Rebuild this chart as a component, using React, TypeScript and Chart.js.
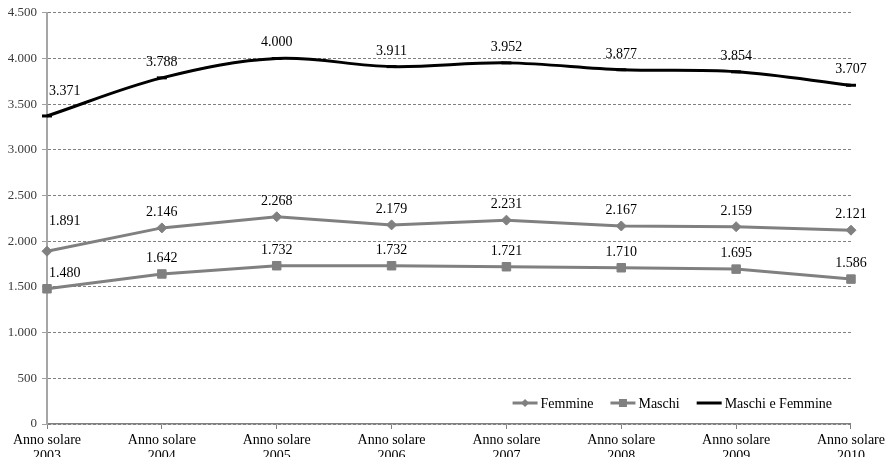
import React, { useEffect, useRef } from 'react';
import { Chart, registerables } from 'chart.js';

Chart.register(...registerables);

// Anni solari rappresentati sull'asse orizzontale
const years = ['2003', '2004', '2005', '2006', '2007', '2008', '2009', '2010'];
const categories = years.map((y) => ['Anno solare', y]);

// Valori per serie
const femmine = [1891, 2146, 2268, 2179, 2231, 2167, 2159, 2121];
const maschi = [1480, 1642, 1732, 1732, 1721, 1710, 1695, 1586];
const totale = [3371, 3788, 4000, 3911, 3952, 3877, 3854, 3707];

// Asse verticale
const yMin = 0;
const yMax = 4500;
const yStep = 500;

const FONT = '"Liberation Serif", "Times New Roman", serif';
const GRAY = '#808080';
const VIEW_W = 887;
const VIEW_H = 457;
const CANVAS_W = 889;
const CANVAS_H = 475;

// Separatore delle migliaia all'italiana
const fmt = (n: number) => String(n).replace(/\B(?=(\d{3})+(?!\d))/g, '.');

// Etichette con il valore sopra ogni punto
const valueLabels = {
  id: 'valueLabels',
  afterDatasetsDraw(chart: any) {
    const { ctx, chartArea } = chart;
    ctx.save();
    ctx.font = `14px ${FONT}`;
    ctx.fillStyle = '#000';
    ctx.textAlign = 'center';
    ctx.textBaseline = 'alphabetic';
    chart.data.datasets.forEach((ds: any, i: number) => {
      const meta = chart.getDatasetMeta(i);
      meta.data.forEach((pt: any, j: number) => {
        const text = fmt(ds.data[j]);
        const w = ctx.measureText(text).width;
        const x = Math.max(pt.x, chartArea.left + 2 + w / 2);
        const lift = j === 0 ? ds.firstLabelLift : 12;
        ctx.fillText(text, x, pt.y - lift);
      });
    });
    ctx.restore();
  },
};

// Legenda disegnata dentro l'area del grafico, in basso a destra
const innerLegend = {
  id: 'innerLegend',
  afterDraw(chart: any) {
    const { ctx, chartArea } = chart;
    const sample = 25;
    const gapText = 3;
    const gapItem = 17;
    ctx.save();
    ctx.font = `14px ${FONT}`;
    const items = chart.data.datasets.map((ds: any) => ({
      ds,
      w: sample + gapText + ctx.measureText(ds.label).width,
    }));
    const total = items.reduce((s: number, it: any) => s + it.w, 0) + gapItem * (items.length - 1);
    let x = chartArea.right - 19 - total;
    const y = chartArea.bottom - 21;
    items.forEach((it: any) => {
      const ds = it.ds;
      ctx.strokeStyle = ds.borderColor;
      ctx.lineWidth = ds.borderWidth;
      ctx.beginPath();
      ctx.moveTo(x, y);
      ctx.lineTo(x + sample, y);
      ctx.stroke();
      const cx = x + sample / 2;
      ctx.fillStyle = ds.borderColor;
      if (ds.pointStyle === 'rectRot') {
        const r = 4;
        ctx.beginPath();
        ctx.moveTo(cx, y - r);
        ctx.lineTo(cx + r, y);
        ctx.lineTo(cx, y + r);
        ctx.lineTo(cx - r, y);
        ctx.closePath();
        ctx.fill();
      } else if (ds.pointStyle === 'rect') {
        const h = 4;
        ctx.fillRect(cx - h, y - h, 2 * h, 2 * h);
      }
      ctx.fillStyle = '#000';
      ctx.textAlign = 'left';
      ctx.textBaseline = 'middle';
      ctx.fillText(ds.label, x + sample + gapText, y + 1);
      x += it.w + gapItem;
    });
    ctx.restore();
  },
};

export default function App() {
  const canvasRef = useRef<HTMLCanvasElement | null>(null);

  useEffect(() => {
    const canvas = canvasRef.current;
    if (!canvas) return;
    const chart = new Chart(canvas, {
      type: 'line',
      data: {
        labels: categories,
        datasets: [
          {
            label: 'Femmine',
            data: femmine,
            borderColor: GRAY,
            backgroundColor: GRAY,
            borderWidth: 3,
            pointStyle: 'rectRot',
            pointRadius: 5,
            pointBorderWidth: 1,
            tension: 0,
            clip: false,
            firstLabelLift: 26,
          } as any,
          {
            label: 'Maschi',
            data: maschi,
            borderColor: GRAY,
            backgroundColor: GRAY,
            borderWidth: 3,
            pointStyle: 'rect',
            pointRadius: 6,
            pointBorderWidth: 1,
            tension: 0,
            clip: false,
            firstLabelLift: 12,
          } as any,
          {
            label: 'Maschi e Femmine',
            data: totale,
            borderColor: '#000',
            backgroundColor: '#000',
            borderWidth: 3,
            pointStyle: 'line',
            pointRadius: 5,
            pointBorderWidth: 3,
            tension: 0.35,
            clip: false,
            firstLabelLift: 21,
          } as any,
        ],
      },
      options: {
        responsive: false,
        animation: false,
        layout: { padding: { top: 12, right: 35, left: 0, bottom: 0 } },
        plugins: {
          legend: { display: false },
          tooltip: { enabled: false },
        },
        scales: {
          x: {
            type: 'category',
            offset: false,
            grid: {
              drawOnChartArea: false,
              drawTicks: true,
              tickLength: 5,
              color: GRAY,
            },
            border: { color: GRAY, width: 1.5 },
            ticks: {
              color: '#000',
              font: { family: FONT, size: 14, lineHeight: 1.1 },
              maxRotation: 0,
              autoSkip: false,
              padding: 4,
            },
            afterFit: (s: any) => {
              s.height = CANVAS_H - 424;
            },
          },
          y: {
            min: yMin,
            max: yMax,
            ticks: {
              stepSize: yStep,
              color: '#3a3a3a',
              font: { family: FONT, size: 13 },
              padding: 5,
              callback: (v: any) => fmt(Number(v)),
            },
            grid: {
              color: GRAY,
              lineWidth: 1,
              tickLength: 5,
              tickColor: '#a0a0a0',
            },
            border: { color: '#a6a6a6', width: 2, dash: [3, 2] },
            afterFit: (s: any) => {
              s.width = 47;
            },
          },
        },
      } as any,
      plugins: [valueLabels, innerLegend],
    });
    return () => chart.destroy();
  }, []);

  return (
    <div
      style={{
        position: 'fixed',
        left: 0,
        top: 0,
        width: VIEW_W,
        height: VIEW_H,
        overflow: 'hidden',
        background: '#fff',
      }}
    >
      <canvas ref={canvasRef} width={CANVAS_W} height={CANVAS_H} style={{ display: 'block' }} />
    </div>
  );
}
